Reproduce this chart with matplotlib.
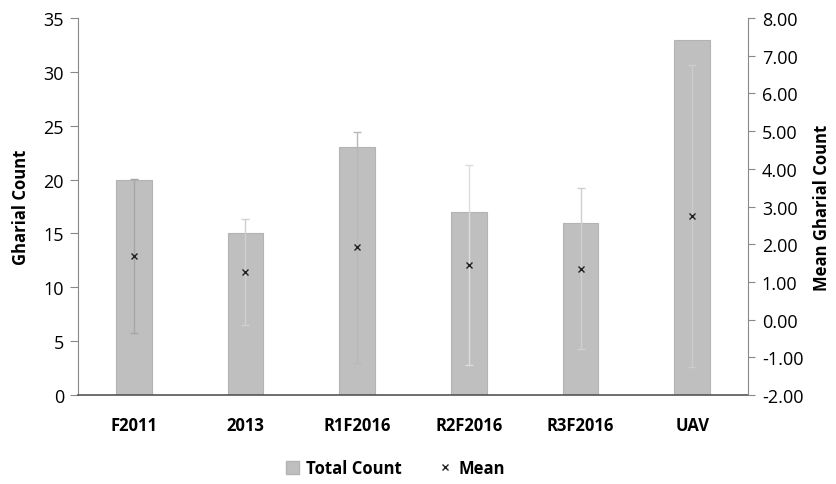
import numpy as np
import matplotlib.pyplot as plt
from matplotlib.lines import Line2D
from matplotlib.patches import Patch

plt.rcParams['font.family'] = ['Open Sans', 'DejaVu Sans']

surveys = ['F2011', '2013', 'R1F2016', 'R2F2016', 'R3F2016', 'UAV']
total_count = [20, 15, 23, 17, 16, 33]
mean_count = [1.68, 1.27, 1.92, 1.44, 1.35, 2.74]
mean_sd = [2.04, 1.40, 3.06, 2.65, 2.14, 4.01]

err_colors = ['#a6a6a6', '#d0d0d0', '#b8b8b8', '#dcdcdc', '#cfcfcf', '#cccccc']

fig = plt.figure(figsize=(8.36, 4.85), dpi=100)
ax = fig.add_axes([78 / 836, 1 - 396 / 485, 670 / 836, 377 / 485])
x = np.arange(len(surveys))
ax.bar(x, total_count, width=0.32, color='#bfbfbf', edgecolor='#b3b3b3', linewidth=0.8, zorder=2)
ax.set_xlim(-0.5, len(surveys) - 0.5)
ax.set_ylim(0, 35)
ax.set_yticks(range(0, 36, 5))
ax.set_ylabel('Gharial Count', fontsize=12, fontweight='bold', labelpad=10)
ax.set_xticks(x)
ax.set_xticklabels(surveys, fontsize=12, fontweight='bold')
ax.tick_params(axis='x', length=0, pad=15)
ax.tick_params(axis='y', labelsize=13, length=6, color='#888888', width=0.8, pad=4)
ax.spines['top'].set_visible(False)
ax.spines['right'].set_visible(False)
ax.spines['left'].set_color('#888888')
ax.spines['bottom'].set_color('#555555')
ax.spines['bottom'].set_linewidth(1.2)

ax2 = ax.twinx()
ax2.set_ylim(-2, 8)
ax2.set_yticks(np.arange(-2, 8.01, 1))
ax2.set_yticklabels([f'{v:.2f}' for v in np.arange(-2, 8.01, 1)])
ax2.tick_params(axis='y', labelsize=13, length=5, color='#888888', width=0.8, pad=5)
for i in range(len(surveys)):
    ax2.errorbar(x[i], mean_count[i], yerr=mean_sd[i], fmt='none', ecolor=err_colors[i],
                 elinewidth=1, capsize=3, capthick=1, zorder=3)
ax2.plot(x, mean_count, linestyle='none', marker='x', color='#222222', markersize=5,
         markeredgewidth=1, zorder=4)
ax2.set_ylabel('Mean Gharial Count', fontsize=12, fontweight='bold', rotation=90, labelpad=7)
for s in ['top', 'left', 'bottom']:
    ax2.spines[s].set_visible(False)
ax2.spines['right'].set_color('#888888')

handles = [Patch(facecolor='#bfbfbf', edgecolor='#b3b3b3', label='Total Count'),
           Line2D([], [], linestyle='none', marker='x', color='#222222', markersize=5, label='Mean')]
leg = fig.legend(handles=handles, loc='center', bbox_to_anchor=(0.473, 0.032), ncol=2,
                 frameon=False, handlelength=0.8, handleheight=0.8, columnspacing=2.2,
                 handletextpad=0.4, prop={'size': 12, 'weight': 'bold'})

fig.savefig('out.png', dpi=100)
